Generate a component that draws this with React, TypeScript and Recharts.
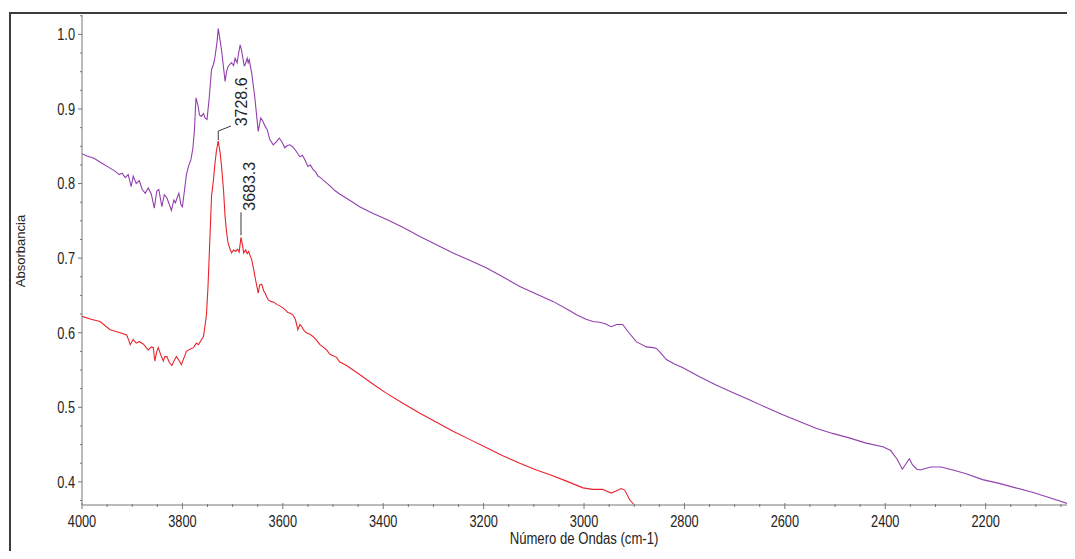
import { LineChart, Line, XAxis, YAxis, ReferenceDot } from "recharts"

type Pt = { wn: number; a: number }

const FONT = "'Liberation Sans', Arial, sans-serif"
const AXIS = "#767676"
const INK = "#242424"
const PURPLE = "#9240ae"
const RED = "#e8242b"

// wavenumber axis: labelled every 200, ticked every 50
const WN_LABELS = [4000, 3800, 3600, 3400, 3200, 3000, 2800, 2600, 2400, 2200]
const WN_TICKS = Array.from({ length: 40 }, (_, i) => 4000 - i * 50)
const WN_DOMAIN = [2032, 4000]

// absorbance axis: labelled every 0.1, ticked every 0.025
const ABS_LABELS = [0.4, 0.5, 0.6, 0.7, 0.8, 0.9, 1.0]
const ABS_TICKS = Array.from({ length: 27 }, (_, i) => (15 + i) * 0.025)
const ABS_DOMAIN = [0.369, 1.026]

// [wavenumber, absorbance]
const UPPER: [number, number][] = [
  [4000, 0.840], [3990, 0.837], [3976, 0.834], [3962, 0.828], [3950, 0.823],
  [3940, 0.819], [3933, 0.816], [3926, 0.812], [3920, 0.814], [3914, 0.808],
  [3908, 0.812], [3902, 0.796], [3898, 0.810], [3892, 0.800], [3886, 0.804],
  [3880, 0.792], [3874, 0.787], [3868, 0.794], [3862, 0.786], [3856, 0.767],
  [3851, 0.790], [3847, 0.792], [3841, 0.769], [3836, 0.785], [3831, 0.781],
  [3826, 0.772], [3822, 0.764], [3817, 0.778], [3814, 0.774], [3810, 0.782],
  [3807, 0.787], [3803, 0.772], [3800, 0.769], [3796, 0.790], [3792, 0.812],
  [3788, 0.823], [3783, 0.832], [3779, 0.848], [3776, 0.872], [3773, 0.915],
  [3769, 0.905], [3766, 0.892], [3762, 0.890], [3758, 0.894], [3755, 0.888],
  [3751, 0.886], [3747, 0.912], [3742, 0.953], [3738, 0.960], [3735, 0.970],
  [3731, 0.990], [3728.6, 1.008], [3725, 0.992], [3722, 0.979], [3718, 0.955],
  [3715, 0.937], [3712, 0.950], [3709, 0.957], [3705, 0.960], [3702, 0.962],
  [3698, 0.958], [3695, 0.968], [3691, 0.962], [3688, 0.975], [3685, 0.986],
  [3682, 0.978], [3680, 0.970], [3677, 0.958], [3675, 0.959], [3671, 0.968],
  [3669, 0.962], [3667, 0.966], [3662, 0.948], [3656, 0.917], [3649, 0.870],
  [3644, 0.888], [3640, 0.884], [3636, 0.878], [3631, 0.872], [3626, 0.859],
  [3619, 0.852], [3613, 0.856], [3607, 0.861], [3602, 0.856], [3596, 0.848],
  [3591, 0.851], [3586, 0.852], [3580, 0.849], [3573, 0.843], [3566, 0.836],
  [3561, 0.838], [3556, 0.832], [3550, 0.823], [3545, 0.825], [3540, 0.819],
  [3535, 0.816], [3530, 0.810], [3525, 0.808], [3520, 0.805], [3513, 0.801],
  [3506, 0.797], [3497, 0.791], [3487, 0.786], [3470, 0.779], [3447, 0.769],
  [3420, 0.760], [3394, 0.752], [3360, 0.741], [3327, 0.729], [3294, 0.718],
  [3261, 0.707], [3228, 0.697], [3195, 0.687], [3162, 0.675], [3128, 0.662],
  [3095, 0.652], [3062, 0.642], [3030, 0.630], [3015, 0.624], [2996, 0.618],
  [2982, 0.615], [2969, 0.614], [2958, 0.612], [2946, 0.608], [2935, 0.611],
  [2923, 0.611], [2913, 0.602], [2896, 0.588], [2876, 0.581], [2862, 0.580],
  [2856, 0.579], [2850, 0.575], [2836, 0.564], [2820, 0.558], [2803, 0.553],
  [2770, 0.541], [2737, 0.530], [2704, 0.520], [2671, 0.510], [2638, 0.500],
  [2604, 0.490], [2571, 0.481], [2538, 0.472], [2505, 0.465], [2472, 0.459],
  [2438, 0.452], [2405, 0.447], [2389, 0.442], [2376, 0.430], [2366, 0.417],
  [2359, 0.424], [2352, 0.431], [2346, 0.423], [2337, 0.417], [2330, 0.416],
  [2320, 0.418], [2309, 0.420], [2289, 0.420], [2265, 0.416], [2239, 0.411],
  [2206, 0.403], [2173, 0.398], [2140, 0.392], [2107, 0.386], [2074, 0.379],
  [2037, 0.371],
]

const LOWER: [number, number][] = [
  [4000, 0.622], [3982, 0.618], [3964, 0.615], [3944, 0.604], [3924, 0.600],
  [3911, 0.597], [3907, 0.590], [3904, 0.584], [3898, 0.591], [3892, 0.586],
  [3886, 0.588], [3878, 0.585], [3872, 0.580], [3868, 0.577], [3862, 0.581],
  [3858, 0.580], [3855, 0.562], [3851, 0.575], [3848, 0.580], [3843, 0.570],
  [3838, 0.562], [3835, 0.568], [3831, 0.568], [3826, 0.560], [3821, 0.556],
  [3816, 0.563], [3812, 0.568], [3806, 0.562], [3802, 0.557], [3796, 0.568],
  [3792, 0.575], [3785, 0.578], [3778, 0.580], [3772, 0.586], [3768, 0.584],
  [3762, 0.591], [3758, 0.595], [3755, 0.609], [3752, 0.625], [3749, 0.662],
  [3745, 0.730], [3742, 0.783], [3738, 0.806], [3735, 0.828], [3732, 0.845],
  [3728.6, 0.857], [3725, 0.842], [3722, 0.823], [3718, 0.790], [3715, 0.756],
  [3712, 0.735], [3709, 0.720], [3705, 0.712], [3702, 0.707], [3698, 0.711],
  [3694, 0.709], [3690, 0.712], [3687, 0.708], [3683.3, 0.728], [3680, 0.716],
  [3678, 0.707], [3674, 0.711], [3671, 0.706], [3668, 0.709], [3666, 0.705],
  [3662, 0.698], [3658, 0.685], [3654, 0.670], [3649, 0.653], [3646, 0.664],
  [3642, 0.665], [3638, 0.656], [3635, 0.653], [3632, 0.648], [3629, 0.644],
  [3624, 0.642], [3618, 0.641], [3612, 0.638], [3606, 0.636], [3599, 0.633],
  [3594, 0.630], [3590, 0.627], [3585, 0.626], [3580, 0.624], [3575, 0.618],
  [3570, 0.604], [3566, 0.611], [3563, 0.609], [3558, 0.603], [3553, 0.600],
  [3546, 0.598], [3540, 0.595], [3533, 0.590], [3526, 0.584], [3520, 0.581],
  [3513, 0.577], [3506, 0.571], [3493, 0.567], [3487, 0.561], [3473, 0.556],
  [3447, 0.544], [3420, 0.531], [3394, 0.519], [3360, 0.505], [3327, 0.492],
  [3294, 0.480], [3261, 0.468], [3228, 0.457], [3195, 0.446], [3162, 0.435],
  [3128, 0.425], [3095, 0.416], [3069, 0.410], [3035, 0.401], [3002, 0.392],
  [2983, 0.390], [2963, 0.390], [2946, 0.385], [2935, 0.388], [2926, 0.391],
  [2919, 0.389], [2909, 0.376], [2901, 0.370],
]

// labelled peaks on the lower spectrum
const PEAKS = [
  { wn: 3728.6, a: 0.857, bent: true },
  { wn: 3683.3, a: 0.728, bent: false },
]

const toPts = (rows: [number, number][]): Pt[] => rows.map(([wn, a]) => ({ wn, a }))
const upperData = toPts(UPPER)
const lowerData = toPts(LOWER)

const isMajor = (v: number, list: number[]) => list.some((m) => Math.abs(m - v) < 1e-6)

function WnTick({ x, y, payload }: any) {
  const v = payload.value as number
  const major = isMajor(v, WN_LABELS)
  return (
    <g>
      <line x1={x} x2={x} y1={y - (major ? 2 : 1)} y2={y + (major ? 4 : 2)} stroke={AXIS} />
      {major && (
        <text
          transform={`translate(${x},${y + 21.5}) scale(0.8,1)`}
          textAnchor="middle"
          fontSize={16}
          fontFamily={FONT}
          fill={INK}
        >
          {v}
        </text>
      )}
    </g>
  )
}

function AbsTick({ x, y, payload }: any) {
  const v = payload.value as number
  const major = isMajor(v, ABS_LABELS)
  return (
    <g>
      <line x1={x - (major ? 4 : 2)} x2={x} y1={y} y2={y} stroke={AXIS} />
      {major && (
        <text
          transform={`translate(${x - 7},${y + 5.8}) scale(0.8,1)`}
          textAnchor="end"
          fontSize={16}
          fontFamily={FONT}
          fill={INK}
        >
          {v.toFixed(1)}
        </text>
      )}
    </g>
  )
}

function PeakTag({ cx, cy, text, bent }: { cx?: number; cy?: number; text: string; bent: boolean }) {
  if (cx == null || cy == null) return <g />
  const d = bent
    ? `M${cx},${cy - 1} V${cy - 10} L${cx + 12.7},${cy - 15}`
    : `M${cx},${cy - 2} V${cy - 25}`
  const tx = bent ? cx + 28.7 : cx + 14
  const ty = bent ? cy - 14.7 : cy - 26.5
  return (
    <g>
      <path d={d} stroke="#3a3a3a" strokeWidth={1} fill="none" />
      <text
        transform={`translate(${tx},${ty}) rotate(-90)`}
        fontSize={16}
        fontFamily={FONT}
        fill={INK}
      >
        {text}
      </text>
    </g>
  )
}

function XTitle({ viewBox }: any) {
  const vb = viewBox ?? { x: 74, y: 497, width: 988 }
  return (
    <text
      transform={`translate(${vb.x + vb.width / 2 + 8},${vb.y + 39}) scale(0.82,1)`}
      textAnchor="middle"
      fontSize={16}
      fontFamily={FONT}
      fill={INK}
    >
      Número de Ondas (cm-1)
    </text>
  )
}

function YTitle({ viewBox }: any) {
  const vb = viewBox ?? { x: 0, y: 7, height: 490 }
  return (
    <text
      transform={`translate(${vb.x + 17},${vb.y + vb.height / 2 - 9}) rotate(-90)`}
      textAnchor="middle"
      fontSize={13}
      fontFamily={FONT}
      fill={INK}
    >
      Absorbancia
    </text>
  )
}

export default function App() {
  return (
    <div style={{ position: "relative", width: 1100, height: 543, overflow: "hidden", background: "#fff" }}>
      <style>{"html,body{overflow:hidden}"}</style>
      <div
        style={{
          position: "absolute",
          left: 1,
          top: 4,
          width: 1200,
          height: 800,
          borderLeft: "2px solid #3c3c3c",
          borderTop: "2px solid #3c3c3c",
        }}
      />
      <div style={{ position: "absolute", left: 0, top: 0 }}>
        <LineChart width={1067} height={543} margin={{ top: 7, right: 5, bottom: 0, left: 0 }}>
          <XAxis
            dataKey="wn"
            type="number"
            domain={WN_DOMAIN}
            reversed
            ticks={WN_TICKS}
            interval={0}
            tickSize={0}
            tickMargin={0}
            tickLine={false}
            axisLine={{ stroke: AXIS }}
            tick={(p: any) => <WnTick {...p} />}
            height={46}
            allowDataOverflow
            label={(p: any) => <XTitle {...p} />}
          />
          <YAxis
            type="number"
            domain={ABS_DOMAIN}
            ticks={ABS_TICKS}
            interval={0}
            tickSize={0}
            tickMargin={0}
            tickLine={false}
            axisLine={{ stroke: AXIS }}
            tick={(p: any) => <AbsTick {...p} />}
            width={74}
            allowDataOverflow
            label={(p: any) => <YTitle {...p} />}
          />
          <Line
            data={upperData}
            dataKey="a"
            type="linear"
            stroke={PURPLE}
            strokeWidth={1.1}
            dot={false}
            isAnimationActive={false}
          />
          <Line
            data={lowerData}
            dataKey="a"
            type="linear"
            stroke={RED}
            strokeWidth={1.1}
            dot={false}
            isAnimationActive={false}
          />
          {PEAKS.map((pk) => (
            <ReferenceDot
              key={pk.wn}
              x={pk.wn}
              y={pk.a}
              r={0}
              fill="none"
              stroke="none"
              shape={(p: any) => <PeakTag cx={p.cx} cy={p.cy} text={pk.wn.toFixed(1)} bent={pk.bent} />}
            />
          ))}
        </LineChart>
      </div>
    </div>
  )
}
